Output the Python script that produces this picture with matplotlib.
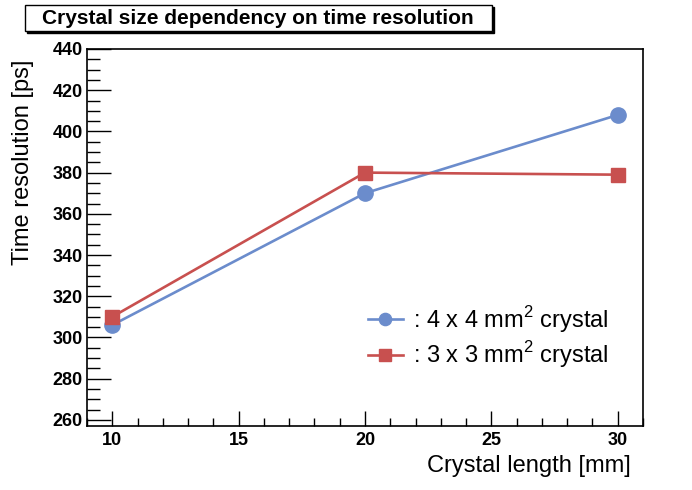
import matplotlib
matplotlib.use('Agg')
import matplotlib.pyplot as plt
from matplotlib.patches import Rectangle
from matplotlib.ticker import MultipleLocator

plt.rcParams['font.family'] = ['Liberation Sans', 'DejaVu Sans']
plt.rcParams['mathtext.fontset'] = 'custom'
plt.rcParams['mathtext.rm'] = 'Liberation Sans'

lengths = [10, 20, 30]
res_4x4 = [306, 370, 408]
res_3x3 = [310, 380, 379]
labels = [': 4 x 4 mm$^{2}$ crystal', ': 3 x 3 mm$^{2}$ crystal']

blue = '#6b8ccc'
red = '#c8504f'

W, H = 692, 490
fig = plt.figure(figsize=(W / 100, H / 100), dpi=100)
ax = fig.add_axes([87 / W, 1 - 426 / H, (643 - 87) / W, (426 - 49) / H])

ax.plot(lengths, res_4x4, color=blue, lw=1.9, marker='o', ms=11, label=labels[0])
ax.plot(lengths, res_3x3, color=red, lw=1.9, marker='s', ms=10, label=labels[1])

ax.set_xlim(9, 31)
ax.set_ylim(257, 440)
ax.xaxis.set_major_locator(MultipleLocator(5))
ax.xaxis.set_minor_locator(MultipleLocator(1))
ax.yaxis.set_major_locator(MultipleLocator(20))
ax.yaxis.set_minor_locator(MultipleLocator(5))
ax.tick_params(axis='x', which='major', direction='in', length=11, width=1, labelsize=13, pad=4)
ax.tick_params(axis='x', which='minor', direction='in', length=6, width=1)
ax.tick_params(axis='y', which='major', direction='in', length=17, width=1, labelsize=13, pad=3)
ax.tick_params(axis='y', which='minor', direction='in', length=9, width=1)
for lab in ax.get_xticklabels() + ax.get_yticklabels():
    lab.set_fontweight('bold')
for sp in ax.spines.values():
    sp.set_linewidth(1.2)

# axis titles, ROOT style (right/top aligned)
fig.text(23 / W, 1 - 60 / H, 'Time resolution [ps]', rotation=90,
         ha='center', va='top', fontsize=17)
fig.text(631 / W, 1 - 466 / H, 'Crystal length [mm]',
         ha='right', va='center', fontsize=17)

ax.legend(loc='center left', bbox_to_anchor=(0.505, 0.236), frameon=False,
          fontsize=17, handlelength=1.5, handletextpad=0.4, labelspacing=0.2,
          borderpad=0, borderaxespad=0, markerscale=0.8)

# title box with shadow
fig.add_artist(Rectangle((27 / W, 1 - 33 / H), (492 - 25) / W, 26 / H,
                         transform=fig.transFigure, facecolor='black', edgecolor='black'))
fig.add_artist(Rectangle((25 / W, 1 - 31 / H), (492 - 25) / W, 26 / H,
                         transform=fig.transFigure, facecolor='white', edgecolor='black', lw=1))
fig.text(258 / W, 1 - 18 / H, 'Crystal size dependency on time resolution',
         ha='center', va='center', fontsize=15, fontweight='bold')

fig.savefig('out.png', dpi=100)
